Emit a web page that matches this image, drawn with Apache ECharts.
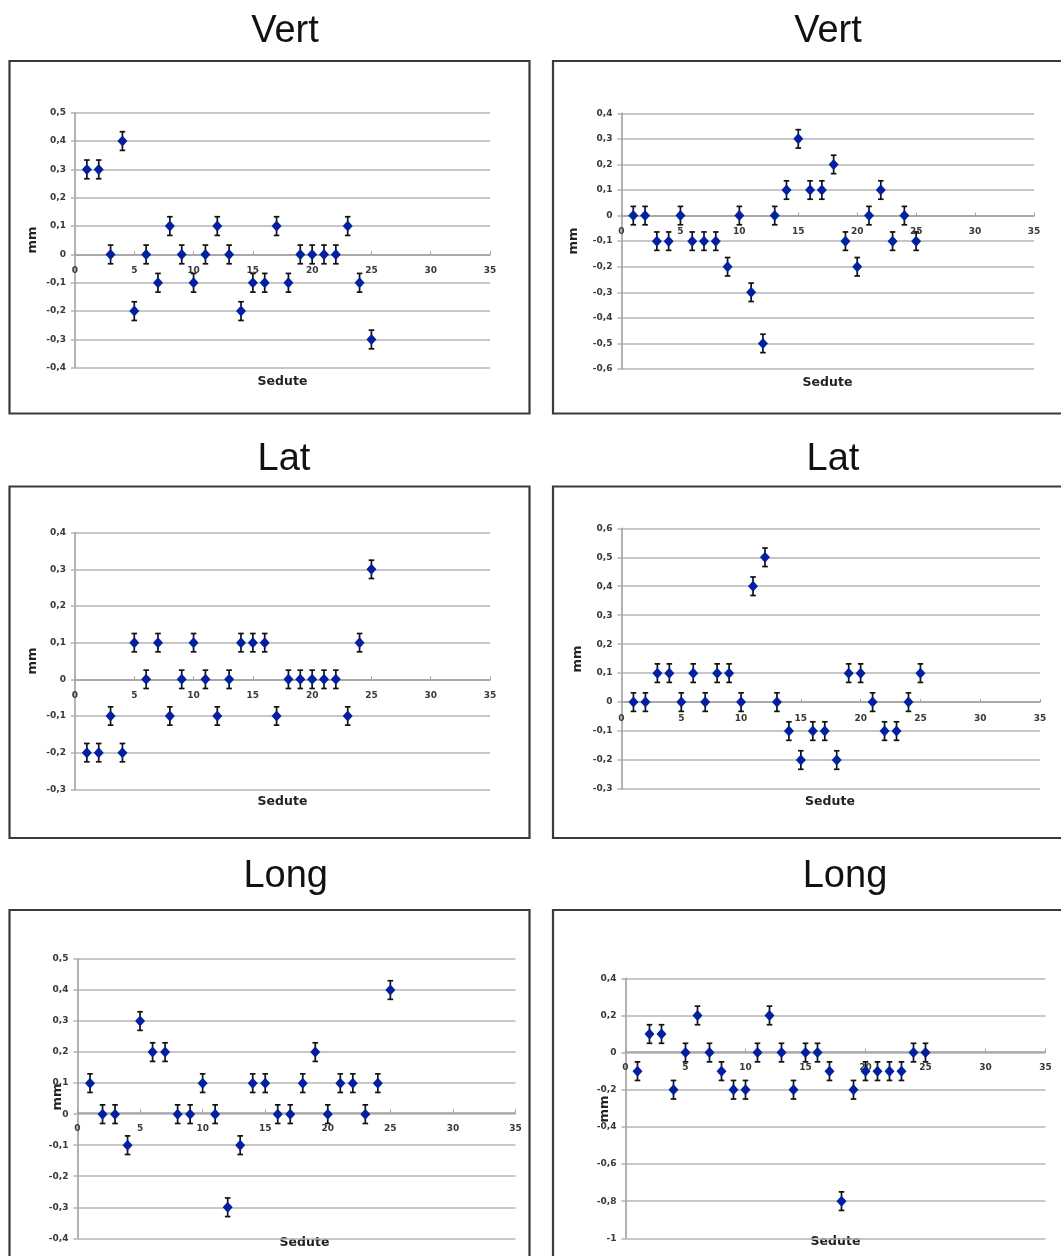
<!DOCTYPE html>
<html>
<head>
<meta charset="utf-8">
<script src="https://cdn.jsdelivr.net/npm/echarts@6/dist/echarts.min.js"></script>
<style>
html,body{margin:0;padding:0;background:#fff;}
#c{width:1061px;height:1256px;}
</style>
</head>
<body>
<div id="c"></div>
<script>
// ---- data (x = seduta number, y = mm) ----
var sedute = [1,2,3,4,5,6,7,8,9,10,11,12,13,14,15,16,17,18,19,20,21,22,23,24,25];
var vertA = [0.3,0.3,0,0.4,-0.2,0,-0.1,0.1,0,-0.1,0,0.1,0,-0.2,-0.1,-0.1,0.1,-0.1,0,0,0,0,0.1,-0.1,-0.3];
var vertB = [0,0,-0.1,-0.1,0,-0.1,-0.1,-0.1,-0.2,0,-0.3,-0.5,0,0.1,0.3,0.1,0.1,0.2,-0.1,-0.2,0,0.1,-0.1,0,-0.1];
var latA  = [-0.2,-0.2,-0.1,-0.2,0.1,0,0.1,-0.1,0,0.1,0,-0.1,0,0.1,0.1,0.1,-0.1,0,0,0,0,0,-0.1,0.1,0.3];
var latB  = [0,0,0.1,0.1,0,0.1,0,0.1,0.1,0,0.4,0.5,0,-0.1,-0.2,-0.1,-0.1,-0.2,0.1,0.1,0,-0.1,-0.1,0,0.1];
var longA = [0.1,0,0,-0.1,0.3,0.2,0.2,0,0,0.1,0,-0.3,-0.1,0.1,0.1,0,0,0.1,0.2,0,0.1,0.1,0,0.1,0.4];
var longB = [-0.1,0.1,0.1,-0.2,0,0.2,0,-0.1,-0.2,-0.2,0,0.2,0,-0.2,0,0,-0.1,-0.8,-0.2,-0.1,-0.1,-0.1,-0.1,0,0];
// error bar half-lengths (mm) read per panel
var errVertA = 0.033, errVertB = 0.036, errLatA = 0.025, errLatB = 0.032, errLongA = 0.03, errLongB = 0.05;
// y-axis tick ranges [min, max, interval]
var yVertA = [-0.4, 0.5, 0.1], yVertB = [-0.6, 0.4, 0.1];
var yLatA  = [-0.3, 0.4, 0.1], yLatB  = [-0.3, 0.6, 0.1];
var yLongA = [-0.4, 0.5, 0.1], yLongB = [-1, 0.4, 0.2];
var xTicks = [0, 35, 5];
var titles = ['Vert','Vert','Lat','Lat','Long','Long'];
var xName = 'Sedute', yName = 'mm';

// ---- layout ----
var panels = [
  {vals: vertA, err: errVertA, y: yVertA, grid:{left:75, top:112.7, right:490, bottom:367.8}, box:[9.5,61,520,352.5], title:[285,32], mm:[33,240], sed:[282.5,382]},
  {vals: vertB, err: errVertB, y: yVertB, grid:{left:621.5, top:113.3, right:1034, bottom:369}, box:[553,61,520,352.5], title:[828,32], mm:[573.5,241], sed:[827.5,383]},
  {vals: latA, err: errLatA, y: yLatA, grid:{left:75, top:532.7, right:490, bottom:789.3}, box:[9.5,486.5,520,351.5], title:[284,460], mm:[33,661], sed:[282.5,802]},
  {vals: latB, err: errLatB, y: yLatB, grid:{left:621.5, top:528.3, right:1040, bottom:789}, box:[553,486.5,520,351.5], title:[833,460], mm:[577.5,659], sed:[830,802]},
  {vals: longA, err: errLongA, y: yLongA, grid:{left:77.5, top:959, right:515.5, bottom:1238.3}, box:[9.5,910,520,400], title:[285.7,877], mm:[57.5,1097], sed:[304.5,1243]},
  {vals: longB, err: errLongB, y: yLongB, grid:{left:625.5, top:978.3, right:1045.5, bottom:1238.3}, box:[553,910,520,400], title:[845,877], mm:[605,1109], sed:[835.5,1242]}
];

function fmt(v){ var s = String(+(+v).toFixed(2)); return s.replace('.', ','); }

var axisGray = '#a0a0a0', gridGray = '#b5b5b5', labelColor = '#383838';
var labelFont = 'DejaVu Sans';

var option = {
  animation: false,
  backgroundColor: '#fff',
  grid: [], xAxis: [], yAxis: [], series: [], graphic: []
};

panels.forEach(function(p, i){
  option.graphic.push({
    type:'rect', shape:{x:p.box[0], y:p.box[1], width:p.box[2], height:p.box[3]},
    style:{fill:'none', stroke:'#3a3a3a', lineWidth:2.2}, z:0
  });
  option.graphic.push({
    type:'text', x:p.title[0], y:p.title[1],
    style:{text:titles[i], font:'38px "Liberation Sans", Arial, sans-serif', fill:'#111', align:'center', verticalAlign:'middle'}
  });
  option.graphic.push({
    type:'text', x:p.sed[0], y:p.sed[1],
    style:{text:xName, font:'bold 12.5px "DejaVu Sans", sans-serif', fill:'#222', align:'center', verticalAlign:'middle'}
  });
  option.graphic.push({
    type:'text', x:p.mm[0], y:p.mm[1], rotation: Math.PI/2,
    style:{text:yName, font:'bold 13px "DejaVu Sans", sans-serif', fill:'#222', align:'center', verticalAlign:'middle'}
  });

  var g = p.grid;
  option.grid.push({left:g.left, top:g.top, width:g.right-g.left, height:g.bottom-g.top, containLabel:false});
  option.xAxis.push({
    gridIndex:i, type:'value', min:xTicks[0], max:xTicks[1], interval:xTicks[2],
    position:'bottom', offset:0,
    axisLine:{show:true, onZero:false, lineStyle:{color:axisGray, width:1.6}},
    axisTick:{show:true, length:3, inside:true, lineStyle:{color:axisGray}},
    axisLabel:{margin:12, fontSize:9, fontWeight:'bold', fontFamily:labelFont, color:labelColor},
    splitLine:{show:false}
  });
  option.yAxis.push({
    gridIndex:i, type:'value', min:p.y[0], max:p.y[1], interval:p.y[2],
    axisLine:{show:true, lineStyle:{color:axisGray, width:1.6}},
    axisTick:{show:true, length:4, lineStyle:{color:gridGray, width:1.6}},
    axisLabel:{margin:9, fontSize:9, fontWeight:'bold', fontFamily:labelFont, color:labelColor, formatter: fmt},
    splitLine:{show:true, lineStyle:{color:gridGray, width:1.6}}
  });

  var errData = sedute.map(function(x, k){ return [x, p.vals[k], p.err]; });
  option.series.push({
    type:'custom', xAxisIndex:i, yAxisIndex:i, z:3,
    data: errData,
    renderItem: function(params, api){
      var x = api.value(0), y = api.value(1), e = api.value(2);
      var top = api.coord([x, y + e]), bot = api.coord([x, y - e]);
      var cw = 2.8;
      var st = {stroke:'#111', lineWidth:1.7};
      return {type:'group', children:[
        {type:'line', shape:{x1:top[0], y1:top[1], x2:bot[0], y2:bot[1]}, style:st},
        {type:'line', shape:{x1:top[0]-cw, y1:top[1], x2:top[0]+cw, y2:top[1]}, style:st},
        {type:'line', shape:{x1:bot[0]-cw, y1:bot[1], x2:bot[0]+cw, y2:bot[1]}, style:st}
      ]};
    }
  });
  option.series.push({
    type:'scatter', xAxisIndex:i, yAxisIndex:i, z:4,
    symbol:'diamond', symbolSize:[10,11],
    itemStyle:{color:'#0320a0', opacity:1},
    data: sedute.map(function(x, k){ return [x, p.vals[k]]; })
  });
});

var chart = echarts.init(document.getElementById('c'), null, {renderer:'canvas'});
chart.setOption(option);
// move each x axis (line, ticks, labels) to the y = 0 line, using the library's own scale
var xUpdate = panels.map(function(p, i){
  var zeroY = chart.convertToPixel({yAxisIndex:i}, 0);
  return {offset: zeroY - p.grid.bottom};
});
chart.setOption({xAxis: xUpdate});
</script>
</body>
</html>
